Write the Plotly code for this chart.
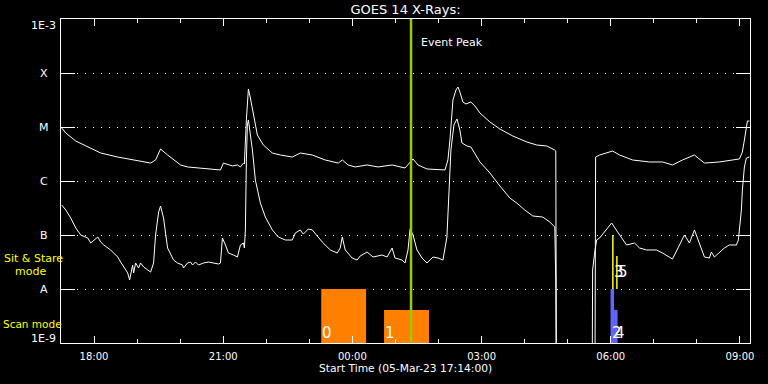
import numpy as np
import pandas as pd
import plotly.graph_objects as go

# ---------------- data ----------------
START = pd.Timestamp("2023-03-05 17:14:00")
END = pd.Timestamp("2023-03-06 09:14:00")

# GOES 14 long channel (1-8 A), minutes after start / W m^-2
long_min = [1, 6.7, 20.6, 34.5, 55.3, 79.0, 101.2, 120.7, 124.9, 131.8,
            138.7, 148.5, 166.6, 176.3, 194.4, 208.3, 222.2, 226.3, 231.9, 238.8,
            245.8, 250.0, 254.2, 255.5, 258.3, 261.1, 263.9, 268.0, 273.6, 281.9,
            288.9, 294.5, 305.6, 322.3, 333.4, 350.1, 368.2, 386.3, 391.9, 400.1,
            409.8, 426.5, 441.8, 461.3, 479.3, 486.3, 490.5, 497.4, 510.0, 535.0,
            539.1, 541.9, 546.1, 550.3, 553.1, 555.8, 560.0, 564.2, 571.1, 576.7,
            583.7, 597.6, 611.5, 629.5, 649.0, 662.9, 676.8, 688.0, 689.4, 690.8,
            743.5, 744.9, 750.5, 768.6, 778.3, 796.4, 820.0, 838.1, 852.0, 865.9,
            882.6, 896.5, 917.3, 945.2, 949.4, 952.2, 955.0, 956.4, 959.2]
long_flux = [9.58e-6, 7.74e-6, 5.5e-6, 4.45e-6, 3.3e-6, 2.78e-6, 2.45e-6, 2.15e-6, 2.15e-6, 2.45e-6,
             3.91e-6, 3.03e-6, 1.98e-6, 1.82e-6, 1.74e-6, 1.67e-6, 1.6e-6, 2.15e-6, 2.06e-6, 1.9e-6,
             1.98e-6, 1.82e-6, 2.15e-6, 2.06e-6, 1.35e-5, 5.06e-5, 3.44e-5, 1.82e-5, 7.11e-6, 4.64e-6,
             3.75e-6, 3.3e-6, 3.03e-6, 2.78e-6, 3.3e-6, 3.03e-6, 2.45e-6, 2.15e-6, 2.45e-6, 1.98e-6,
             1.82e-6, 1.98e-6, 1.82e-6, 1.98e-6, 1.74e-6, 2.25e-6, 2.56e-6, 1.98e-6, 1.67e-6, 1.6e-6,
             2.45e-6, 5.75e-6, 3.16e-5, 4.84e-5, 5.5e-5, 4.45e-5, 2.9e-5, 2.67e-5, 2.9e-5, 2.45e-5,
             1.82e-5, 1.24e-5, 9.18e-6, 6.81e-6, 5.28e-6, 4.64e-6, 4.45e-6, 3.75e-6, 3.6e-6, 1e-12,
             1e-12, 2.78e-6, 3.03e-6, 3.59e-6, 3.03e-6, 2.45e-6, 2.25e-6, 2.25e-6, 1.98e-6, 2.45e-6,
             3.03e-6, 2.15e-6, 2.25e-6, 2.56e-6, 3.44e-6, 5.75e-6, 9.58e-6, 1.29e-5, 1.29e-5]

# GOES 14 short channel (0.5-4 A)
short_min = [1, 6.7, 13.6, 20.6, 27.5, 37.3, 41.4, 45.6, 51.2, 55.3,
             59.5, 69.2, 79.0, 83.1, 87.3, 92.9, 95.6, 99.8, 101.2, 104.0,
             108.1, 110.9, 115.1, 120.7, 124.9, 129.0, 131.8, 136.0, 138.7, 142.9,
             145.7, 148.5, 156.8, 162.4, 169.3, 170.7, 176.3, 180.5, 183.3, 187.4,
             191.6, 198.5, 205.5, 212.4, 219.4, 222.2, 224.9, 229.1, 233.3, 240.2,
             245.8, 250.0, 254.2, 255.5, 256.9, 258.3, 259.7, 261.1, 263.9, 266.7,
             270.8, 277.8, 284.7, 294.5, 302.8, 312.6, 322.3, 326.5, 333.4, 337.6,
             344.6, 350.1, 364.0, 375.2, 384.9, 389.1, 391.9, 396.0, 405.7, 412.6,
             416.8, 426.5, 434.8, 447.4, 454.3, 461.3, 465.4, 475.2, 479.3, 483.5,
             486.3, 490.5, 496.0, 503.0, 510.0, 518.3, 525.3, 532.2, 537.7, 540.5,
             543.3, 547.5, 551.7, 555.8, 558.6, 565.6, 571.1, 583.7, 597.6, 611.5,
             625.4, 635.1, 646.2, 657.4, 671.3, 681.0, 688.0, 689.4, 690.8, 739.4,
             740.7, 743.5, 746.3, 750.5, 757.4, 767.2, 775.5, 788.0, 799.1, 806.1,
             815.8, 829.7, 838.1, 852.0, 868.7, 875.6, 882.6, 889.5, 896.5, 903.4,
             906.2, 910.4, 917.3, 924.3, 931.3, 941.0, 943.8, 948.0, 949.4, 952.2,
             955.0, 957.8, 959.2]
short_flux = [3.59e-7, 2.9e-7, 2.06e-7, 1.35e-7, 1e-7, 8.8e-8, 7.11e-8, 8.08e-8, 9.18e-8, 7.42e-8,
              6.53e-8, 5.28e-8, 3.91e-8, 3.16e-8, 2.56e-8, 1.98e-8, 1.47e-8, 2.78e-8, 1.98e-8, 3.03e-8,
              2.45e-8, 3.03e-8, 2.56e-8, 2.25e-8, 2.06e-8, 3.03e-8, 1e-7, 2.67e-7, 3.44e-7, 2.06e-7,
              1.14e-7, 5.75e-8, 3.44e-8, 3.03e-8, 2.78e-8, 2.45e-8, 3.03e-8, 3.16e-8, 2.78e-8, 3.16e-8,
              2.78e-8, 3.03e-8, 3.16e-8, 3.03e-8, 2.9e-8, 3.03e-8, 8.8e-8, 6.53e-8, 4.64e-8, 4.26e-8,
              3.91e-8, 6.53e-8, 7.11e-8, 5.75e-8, 1.24e-7, 2.45e-6, 1.09e-5, 1.35e-5, 7.11e-6, 3.75e-6,
              1.04e-6, 3.91e-7, 2.15e-7, 1.24e-7, 9.18e-8, 8.08e-8, 8.08e-8, 1.09e-7, 1.24e-7, 1.04e-7,
              1.29e-7, 1.24e-7, 7.42e-8, 5.28e-8, 4.64e-8, 5.75e-8, 9.18e-8, 5.28e-8, 3.75e-8, 3.44e-8,
              4.08e-8, 4.84e-8, 3.91e-8, 4.26e-8, 3.91e-8, 5.75e-8, 3.75e-8, 3.44e-8, 3.03e-8, 5.28e-8,
              1.29e-7, 1e-7, 5.28e-8, 3.75e-8, 3.03e-8, 3.91e-8, 3.75e-8, 3.44e-8, 9.18e-8, 4.45e-7,
              3.75e-6, 1.09e-5, 1.41e-5, 8.8e-6, 5.06e-6, 4.45e-6, 4.26e-6, 2.25e-6, 1.41e-6, 8.08e-7,
              4.84e-7, 3.91e-7, 2.9e-7, 2.25e-7, 2.15e-7, 1.74e-7, 1.41e-7, 1.35e-8, 1e-12, 1e-12,
              2.25e-8, 4.64e-8, 8.08e-8, 8.8e-8, 1.14e-7, 1.67e-7, 1.14e-7, 6.53e-8, 7.11e-8, 5.75e-8,
              5.28e-8, 5.28e-8, 4.64e-8, 3.59e-8, 1e-7, 7.11e-8, 1.24e-7, 7.11e-8, 3.91e-8, 3.75e-8,
              4.84e-8, 3.91e-8, 4.84e-8, 5.75e-8, 6.53e-8, 6.53e-8, 8.08e-8, 2.9e-7, 6.81e-7, 1.82e-6,
              2.67e-6, 2.78e-6, 2.78e-6]

# Scan-mode observation blocks
scan_id = ["0", "1", "2", "4"]
scan_start_min = [362.6, 450.1, 765.7, 770.6]
scan_end_min = [425.1, 512.7, 770.6, 775.5]
scan_top = [1e-8, 4.1e-9, 1e-8, 4.1e-9]
scan_base = 1e-9
scan_color = ["#ff8000", "#ff8000", "#6464ff", "#6464ff"]

# Sit & stare observations
stare_id = ["3", "5"]
stare_min = [768.9, 774.5]
stare_top = [1e-7, 4.1e-8]
stare_base = 1e-8

event_peak_min = 487.7

tick_vals = [1e-9, 1e-8, 1e-7, 1e-6, 1e-5, 1e-4, 1e-3]
tick_text = ["1E-9", "A", "B", "C", "M", "X", "1E-3"]


def to_time(m):
    return START + pd.to_timedelta(np.asarray(m, dtype=float), unit="min")


fig = go.Figure()

# scan blocks (filled rectangles in data space)
for sid, s, e, top, col in zip(scan_id, scan_start_min, scan_end_min, scan_top, scan_color):
    xs = to_time([s, s, e, e, s])
    fig.add_trace(go.Scatter(x=xs, y=[scan_base, top, top, scan_base, scan_base],
                             mode="lines", fill="toself", fillcolor=col,
                             line=dict(width=0, color=col), hoverinfo="skip"))

fig.add_trace(go.Scatter(x=to_time(long_min), y=long_flux, mode="lines",
                         line=dict(color="white", width=1)))
fig.add_trace(go.Scatter(x=to_time(short_min), y=short_flux, mode="lines",
                         line=dict(color="white", width=1)))

# event peak line
pk = to_time([event_peak_min, event_peak_min])
fig.add_trace(go.Scatter(x=pk, y=[tick_vals[0], tick_vals[-1]], mode="lines",
                         line=dict(color="#99cc00", width=2.5)))

# sit & stare lines
for t, top in zip(stare_min, stare_top):
    fig.add_trace(go.Scatter(x=to_time([t, t]), y=[stare_base, top], mode="lines",
                             line=dict(color="#ffff00", width=1.5)))

ann = []
# y labels centred left of axis
for i, (v, txt) in enumerate(zip(tick_vals, tick_text)):
    if i == 0:
        anchor, ys = "bottom", -4
    elif i == len(tick_vals) - 1:
        anchor, ys = "top", 2
    else:
        anchor, ys = "middle", 0
    ann.append(dict(x=-0.0247, xref="paper", y=np.log10(v), yref="y", text=txt,
                    showarrow=False, xanchor="center", yanchor=anchor, yshift=ys,
                    font=dict(size=11, color="white")))

for sid, s in zip(scan_id, scan_start_min):
    ann.append(dict(x=to_time([s])[0], xref="x", y=np.log10(scan_base), yref="y",
                    text=sid, showarrow=False, xanchor="left", yanchor="bottom",
                    xshift=-1, yshift=-1, font=dict(size=15, color="white")))
for sid, s in zip(stare_id, stare_min):
    ann.append(dict(x=to_time([s])[0], xref="x", y=np.log10(stare_base), yref="y",
                    text=sid, showarrow=False, xanchor="left", yanchor="bottom",
                    xshift=-1, yshift=6, font=dict(size=15, color="white")))

ann += [
    dict(x=to_time([event_peak_min])[0], xref="x", y=0.926, yref="paper", text="Event Peak",
         showarrow=False, xanchor="left", yanchor="middle", xshift=8,
         font=dict(size=11, color="white")),
    dict(x=-0.0856, xref="paper", y=0.2593, yref="paper", text="Sit &amp; Stare",
         showarrow=False, xanchor="left", yanchor="middle", font=dict(size=11, color="#ffff00")),
    dict(x=-0.0700, xref="paper", y=0.2222, yref="paper", text="mode",
         showarrow=False, xanchor="left", yanchor="middle", font=dict(size=11, color="#ffff00")),
    dict(x=-0.0870, xref="paper", y=0.0586, yref="paper", text="Scan mode",
         showarrow=False, xanchor="left", yanchor="middle", font=dict(size=10.5, color="#ffff00")),
    dict(x=0.5, xref="paper", y=-0.0772, yref="paper", text="Start Time (05-Mar-23 17:14:00)",
         showarrow=False, xanchor="center", yanchor="middle", font=dict(size=10.7, color="white")),
]

fig.update_layout(
    width=768, height=384,
    margin=dict(l=61, r=18, t=19, b=41),
    paper_bgcolor="black", plot_bgcolor="black",
    showlegend=False,
    font=dict(family="DejaVu Sans", color="white"),
    title=dict(text="GOES 14 X-Rays:", x=0.5, xref="paper", xanchor="center",
               y=1 - 9.5 / 384, yref="container", yanchor="middle",
               font=dict(size=13, color="white")),
    annotations=ann,
)

fig.update_xaxes(
    type="date", range=[START, END],
    showline=True, linecolor="white", linewidth=1, mirror="ticks",
    ticks="inside", ticklen=7, tickwidth=1, tickcolor="white",
    tick0="2023-03-05 18:00:00", dtick=3 * 3600000, tickformat="%H:%M",
    tickfont=dict(size=10, color="white"), ticklabelstandoff=4,
    showgrid=False, zeroline=False,
    minor=dict(tick0="2023-03-05 18:00:00", dtick=3600000, ticks="inside",
               ticklen=4, tickcolor="white", tickwidth=1, showgrid=False),
)
fig.update_yaxes(
    type="log", range=[-9, -3],
    tickvals=tick_vals, showticklabels=False,
    showline=True, linecolor="white", linewidth=1, mirror="ticks",
    ticks="inside", ticklen=14, tickwidth=1, tickcolor="white",
    showgrid=True, gridcolor="white", gridwidth=1, griddash="1px,7px",
    zeroline=False,
)

fig.write_html("out.html")
